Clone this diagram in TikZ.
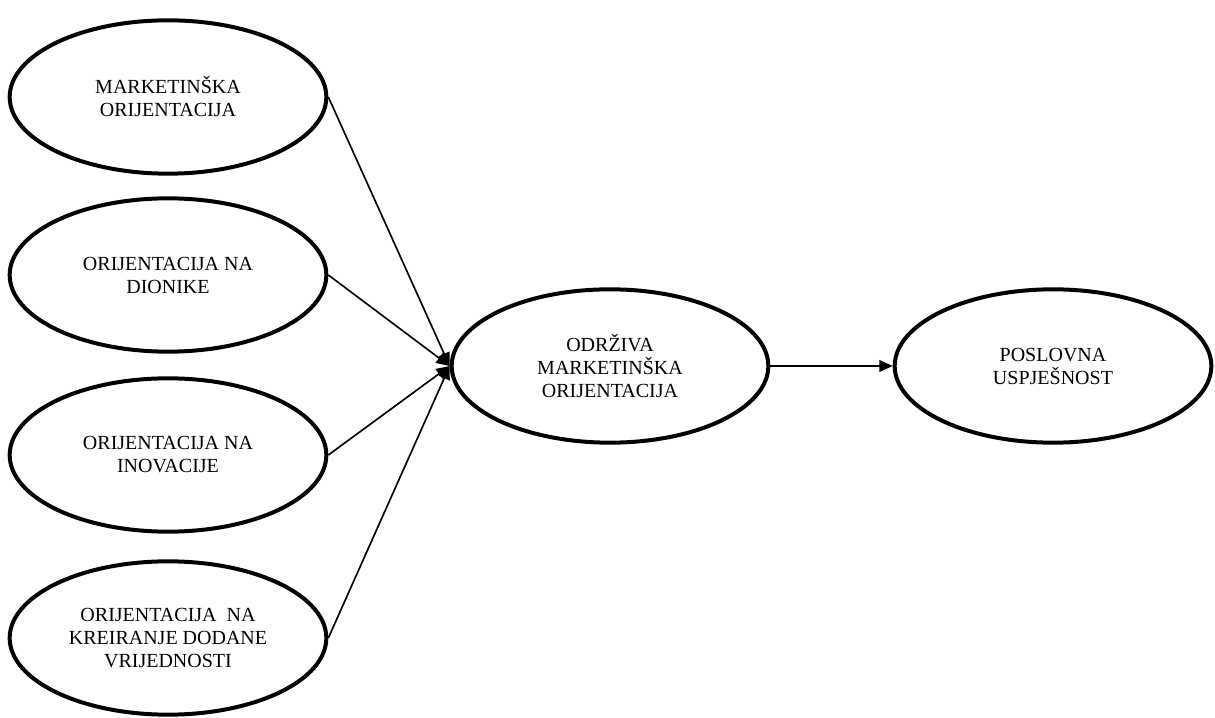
\documentclass[tikz,border=0pt]{standalone}
\usepackage{fontspec}
\setmainfont{Liberation Serif}
\usetikzlibrary{arrows.meta}
\usetikzlibrary{shapes.geometric}

\begin{document}
\begin{tikzpicture}[x=0.6pt, y=-0.6pt,
    konstrukt/.style={ellipse, draw, line width=2.4pt, minimum width=190pt,
        minimum height=92pt, inner sep=0pt, align=center,
        font=\fontsize{12}{13.8}\selectfont},
    veza/.style={-{Triangle[length=8pt, width=7pt]}, line width=1pt}]
    \useasboundingbox (0,0) rectangle (1215,718);

    % lijevi stupac
    \node [konstrukt] (mark) at (168, 97) {MARKETINŠKA\\ORIJENTACIJA};
    \node [konstrukt] (dion) at (168, 275) {ORIJENTACIJA NA\\DIONIKE};
    \node [konstrukt] (inov) at (168, 455) {ORIJENTACIJA NA\\INOVACIJE};
    \node [konstrukt] (vrij) at (168, 638) {ORIJENTACIJA\ \ NA\\KREIRANJE DODANE\\VRIJEDNOSTI};

    % sredina i desno
    \node [konstrukt] (odrz) at (610, 366) {ODRŽIVA\\MARKETINŠKA\\ORIJENTACIJA};
    \node [konstrukt] (posl) at (1053, 366) {POSLOVNA\\USPJEŠNOST};

    \draw [veza] (mark.east) -- (odrz.west);
    \draw [veza] (dion.east) -- (odrz.west);
    \draw [veza] (inov.east) -- (odrz.west);
    \draw [veza] (vrij.east) -- (odrz.west);

    \draw [veza] (odrz.east) -- (posl.west);
\end{tikzpicture}
\end{document}
